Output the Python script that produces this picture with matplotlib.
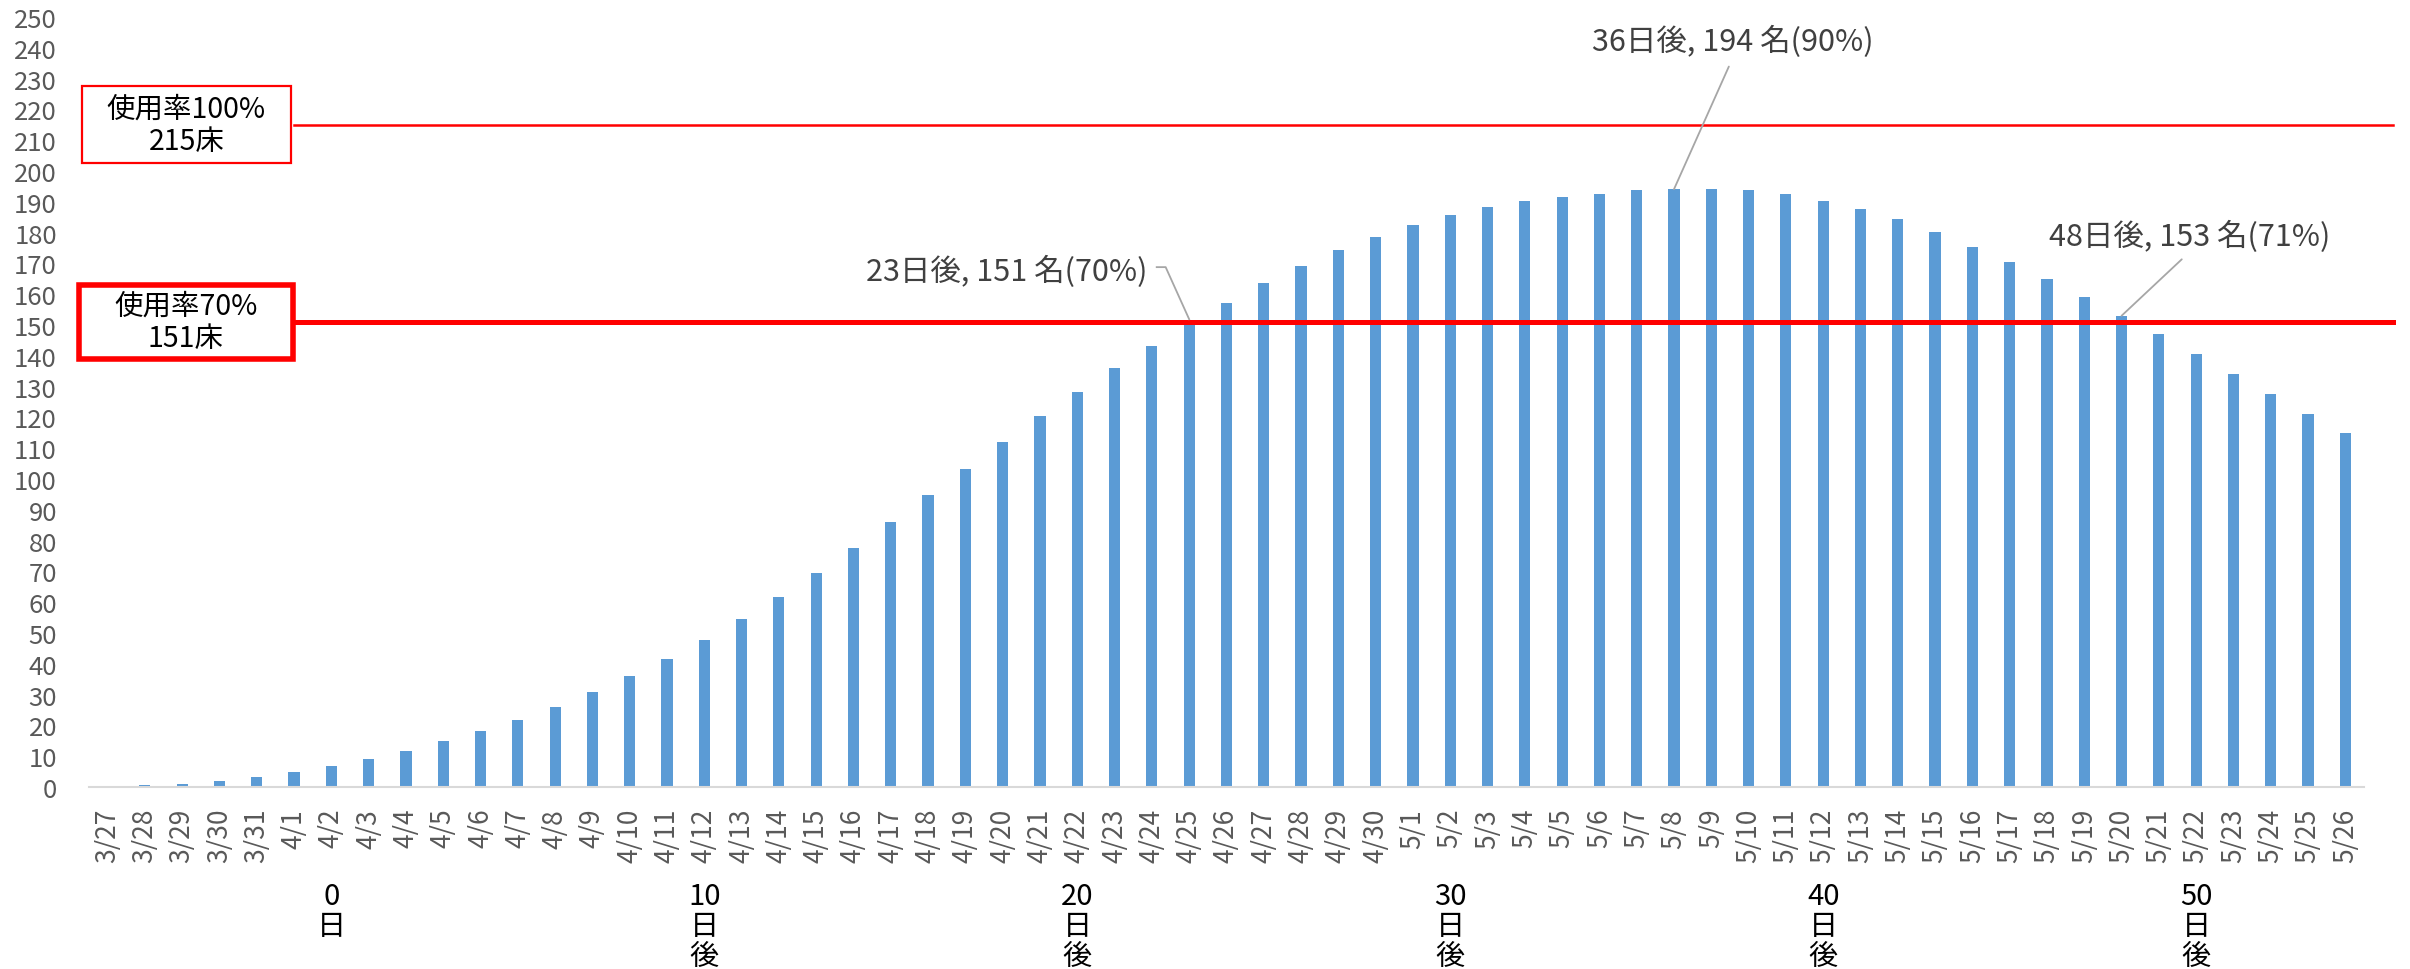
import matplotlib
matplotlib.use("Agg")
import matplotlib.pyplot as plt
from matplotlib.patches import Rectangle
from matplotlib.transforms import blended_transform_factory
import numpy as np

plt.rcParams['font.family'] = ['Noto Sans CJK JP', 'DejaVu Sans']

# dates (x categories) and projected inpatients
dates = ["3/27", "3/28", "3/29", "3/30", "3/31",
         "4/1", "4/2", "4/3", "4/4", "4/5", "4/6", "4/7", "4/8", "4/9", "4/10",
         "4/11", "4/12", "4/13", "4/14", "4/15", "4/16", "4/17", "4/18", "4/19", "4/20",
         "4/21", "4/22", "4/23", "4/24", "4/25", "4/26", "4/27", "4/28", "4/29", "4/30",
         "5/1", "5/2", "5/3", "5/4", "5/5", "5/6", "5/7", "5/8", "5/9", "5/10",
         "5/11", "5/12", "5/13", "5/14", "5/15", "5/16", "5/17", "5/18", "5/19", "5/20",
         "5/21", "5/22", "5/23", "5/24", "5/25", "5/26"]
patients = [0.2, 0.6, 1.1, 2.0, 3.3, 5.0, 6.9, 9.2, 11.8, 14.8,
            18.2, 21.9, 26.1, 30.9, 35.9, 41.5, 47.6, 54.5, 61.7, 69.5,
            77.5, 86.1, 94.8, 103.4, 111.9, 120.4, 128.1, 135.9, 143.3, 151.0,
            157.2, 163.5, 169.1, 174.3, 178.6, 182.6, 185.8, 188.3, 190.2, 191.6,
            192.7, 193.7, 194.1, 194.1, 193.7, 192.6, 190.4, 187.8, 184.3, 180.1,
            175.4, 170.4, 164.9, 159.1, 153.0, 147.0, 140.6, 134.2, 127.7, 121.2,
            115.1]

# bed capacity lines
beds_full = 215
beds_70 = 151
box_labels = ["使用率100%\n215床", "使用率70%\n151床"]

# "N日後" markers under the axis
day_idx = [6, 16, 26, 36, 46, 56]
day_labels = ["0\n日", "10\n日\n後", "20\n日\n後", "30\n日\n後", "40\n日\n後", "50\n日\n後"]

# callouts: (index, text)
callouts = [(29, "23日後, 151 名(70%)"),
            (42, "36日後, 194 名(90%)"),
            (54, "48日後, 153 名(71%)")]

bar_color = "#5B9BD5"
tick_color = "#595959"
ann_color = "#404040"
lead_color = "#A6A6A6"

fig = plt.figure(figsize=(24.1, 9.7), dpi=100)
ax = fig.add_axes([0.0369, 0.1876, 0.944, 0.7938])

x = np.arange(len(dates))
ax.bar(x, patients, width=0.3, color=bar_color, zorder=2)

ax.set_xlim(-0.5, len(dates) - 0.5)
ax.set_ylim(0, 250)
ax.set_yticks(np.arange(0, 251, 10))
ax.set_xticks(x)
ax.set_xticklabels(dates, rotation=90)
ax.tick_params(axis='y', length=0, pad=23, labelsize=18.5, labelcolor=tick_color)
ax.tick_params(axis='x', length=0, pad=15, labelsize=19, labelcolor=tick_color)

for s in ['top', 'right', 'left']:
    ax.spines[s].set_visible(False)
ax.spines['bottom'].set_color('#D9D9D9')
ax.spines['bottom'].set_linewidth(1.5)

# capacity lines, running from the label box to past the right edge
ax.axhline(beds_full, xmin=0.09, xmax=1.0128, color='red', linewidth=1.8,
           clip_on=False, zorder=3)
ax.axhline(beds_70, xmin=0.09, xmax=1.0128, color='red', linewidth=3.6,
           clip_on=False, zorder=3)

# label boxes on the left
trans = blended_transform_factory(ax.transAxes, ax.transData)
box_specs = [(beds_full, -0.0031, 0.0919, 25, 1.6),
             (beds_70, -0.0044, 0.0941, 24, 4.0)]
for (yv, x0, w, h, lw), lab in zip(box_specs, box_labels):
    ax.add_patch(Rectangle((x0, yv - h / 2), w, h, transform=trans,
                           facecolor='white', edgecolor='red', linewidth=lw,
                           clip_on=False, zorder=4))
    ax.text(x0 + w / 2, yv, lab, transform=trans, ha='center', va='center',
            fontsize=20.5, color='black', linespacing=1.1, zorder=5)

# callouts
i, txt = callouts[0]
v = patients[i]
ax.text(i - 1.12, v + 16.5, txt, ha='right', va='center', fontsize=22,
        color=ann_color, zorder=5)
ax.plot([i - 0.87, i - 0.63, i], [v + 17.8, v + 17.8, v + 0.9],
        color=lead_color, linewidth=1.3, zorder=4)

for i, txt in callouts[1:]:
    v = patients[i]
    if i == 42:
        off = (1.58, 48)
    else:
        off = (1.83, 26)
    ax.annotate(txt, xy=(i, v), xytext=(i + off[0], v + off[1]),
                ha='center', va='center', fontsize=22, color=ann_color,
                arrowprops=dict(arrowstyle='-', color=lead_color, linewidth=1.3,
                                shrinkA=5, shrinkB=0, relpos=(0.5, 0)),
                zorder=5)

# day markers below the date labels
trans_x = blended_transform_factory(ax.transData, ax.transAxes)
for i, lab in zip(day_idx, day_labels):
    ax.text(i, -0.122, lab, transform=trans_x, ha='center', va='top',
            fontsize=21, color='black', linespacing=1.0, clip_on=False)

fig.savefig("out.png", dpi=100)
